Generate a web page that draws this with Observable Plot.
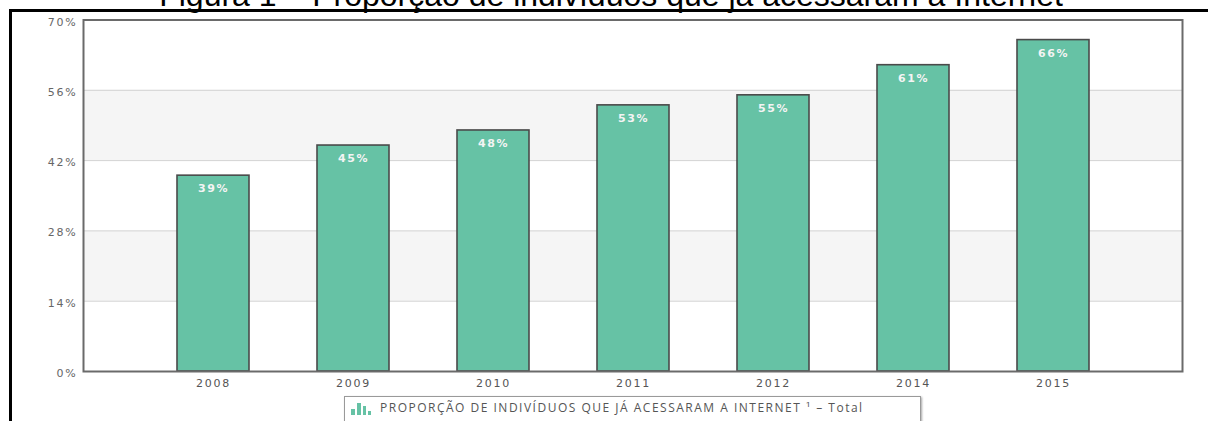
<!DOCTYPE html>
<html>
<head>
<meta charset="utf-8">
<script src="https://cdn.jsdelivr.net/npm/d3@7"></script>
<script src="https://cdn.jsdelivr.net/npm/@observablehq/plot@0.6"></script>
<style>
  html, body { margin: 0; padding: 0; background: #fff; overflow: hidden; }
  #wrap { position: relative; width: 1208px; height: 421px; overflow: hidden; background: #fff; }
  #title { position: absolute; left: 0; width: 1222px; top: -21px; text-align: center;
    font-family: "Liberation Sans", Arial, sans-serif; font-size: 32px; line-height: 32px; color: #000; white-space: nowrap; }
  #topline { position: absolute; left: 9px; top: 9px; width: 1199px; height: 3px; background: #000; }
  #leftline { position: absolute; left: 9px; top: 9px; width: 3px; height: 412px; background: #000; }
  #chart { position: absolute; left: 0; top: 0; }
  #legend { position: absolute; left: 344px; top: 396px; width: 577px; height: 30px; box-sizing: border-box;
    border: 1px solid #9a9a9a; background: #fff; box-shadow: 1px 1px 2px rgba(0,0,0,0.35); }
  #legend svg { position: absolute; left: 6px; top: 6px; }
  #legend span { position: absolute; left: 35px; top: 3px; font-family: "Open Sans", sans-serif; font-size: 12px;
    color: #555; letter-spacing: 1.5px; white-space: nowrap; line-height: 16px; }
</style>
</head>
<body>
<div id="wrap">
  <div id="chart"></div>
  <div id="topline"></div>
  <div id="leftline"></div>
  <div id="title"></div>
  <div id="legend"></div>
</div>
<script>
const titleText = "Figura 1 – Proporção de indivíduos que já acessaram a Internet";
const years = ["2008", "2009", "2010", "2011", "2012", "2014", "2015"];
const values = [39, 45, 48, 53, 55, 61, 66];
const yTicks = [0, 14, 28, 42, 56, 70];
const bandLow = [14, 42];
const bandHigh = [28, 56];
const gridValues = [14, 28, 42, 56];
const legendLabel = "PROPORÇÃO DE INDIVÍDUOS QUE JÁ ACESSARAM A INTERNET ¹ – Total";

const data = years.map((year, i) => ({year, value: values[i]}));
const bands = bandLow.map((lo, i) => ({lo, hi: bandHigh[i]}));

document.getElementById("title").textContent = titleText;

const chart = Plot.plot({
  width: 1208,
  height: 395,
  marginLeft: 83,
  marginRight: 26,
  marginTop: 19.5,
  marginBottom: 24,
  style: {fontFamily: "'DejaVu Sans', Verdana, sans-serif", background: "transparent"},
  x: {domain: years, padding: 0.487, inset: 24, label: null},
  y: {domain: [0, 70], label: null},
  marks: [
    Plot.rect(bands, {y1: "lo", y2: "hi", fill: "#f5f5f5"}),
    Plot.ruleY(gridValues, {stroke: "#d3d3d3", strokeWidth: 1}),
    Plot.barY(data, {x: "year", y: "value", fill: "#66c2a5", stroke: "#4a4a4a", strokeWidth: 1.6}),
    Plot.text(data, {x: "year", y: "value", text: d => d.value + "%", dy: 13, fill: "#f4f4f4",
      fontWeight: "bold", fontSize: 11}),
    Plot.axisY({ticks: yTicks, tickFormat: d => d + "%", tickSize: 0, tickPadding: 6, fontSize: 11,
      color: "#666", dy: 2}),
    Plot.axisX({tickSize: 0, tickPadding: 8, fontSize: 11, color: "#555"}),
    Plot.frame({stroke: "#6a6a6a", strokeWidth: 2})
  ]
});
document.getElementById("chart").appendChild(chart);

const svg = d3.select(chart);
svg.selectAll('g[aria-label="y-axis tick label"] text').style("letter-spacing", "1.8px");
svg.selectAll('g[aria-label="x-axis tick label"] text').style("letter-spacing", "1.8px");
svg.selectAll('g[aria-label="text"] text').style("letter-spacing", "1.6px");

// legend
const legend = document.getElementById("legend");
legend.innerHTML =
  '<svg width="20" height="12" viewBox="0 0 20 12">' +
  '<rect x="0" y="6" width="4" height="6" fill="#66c2a5"/>' +
  '<rect x="6" y="0" width="4" height="12" fill="#66c2a5"/>' +
  '<rect x="12" y="3" width="3" height="9" fill="#66c2a5"/>' +
  '<rect x="17" y="8" width="3" height="4" fill="#66c2a5"/>' +
  '</svg>';
const span = document.createElement("span");
span.textContent = legendLabel;
legend.appendChild(span);
</script>
</body>
</html>
